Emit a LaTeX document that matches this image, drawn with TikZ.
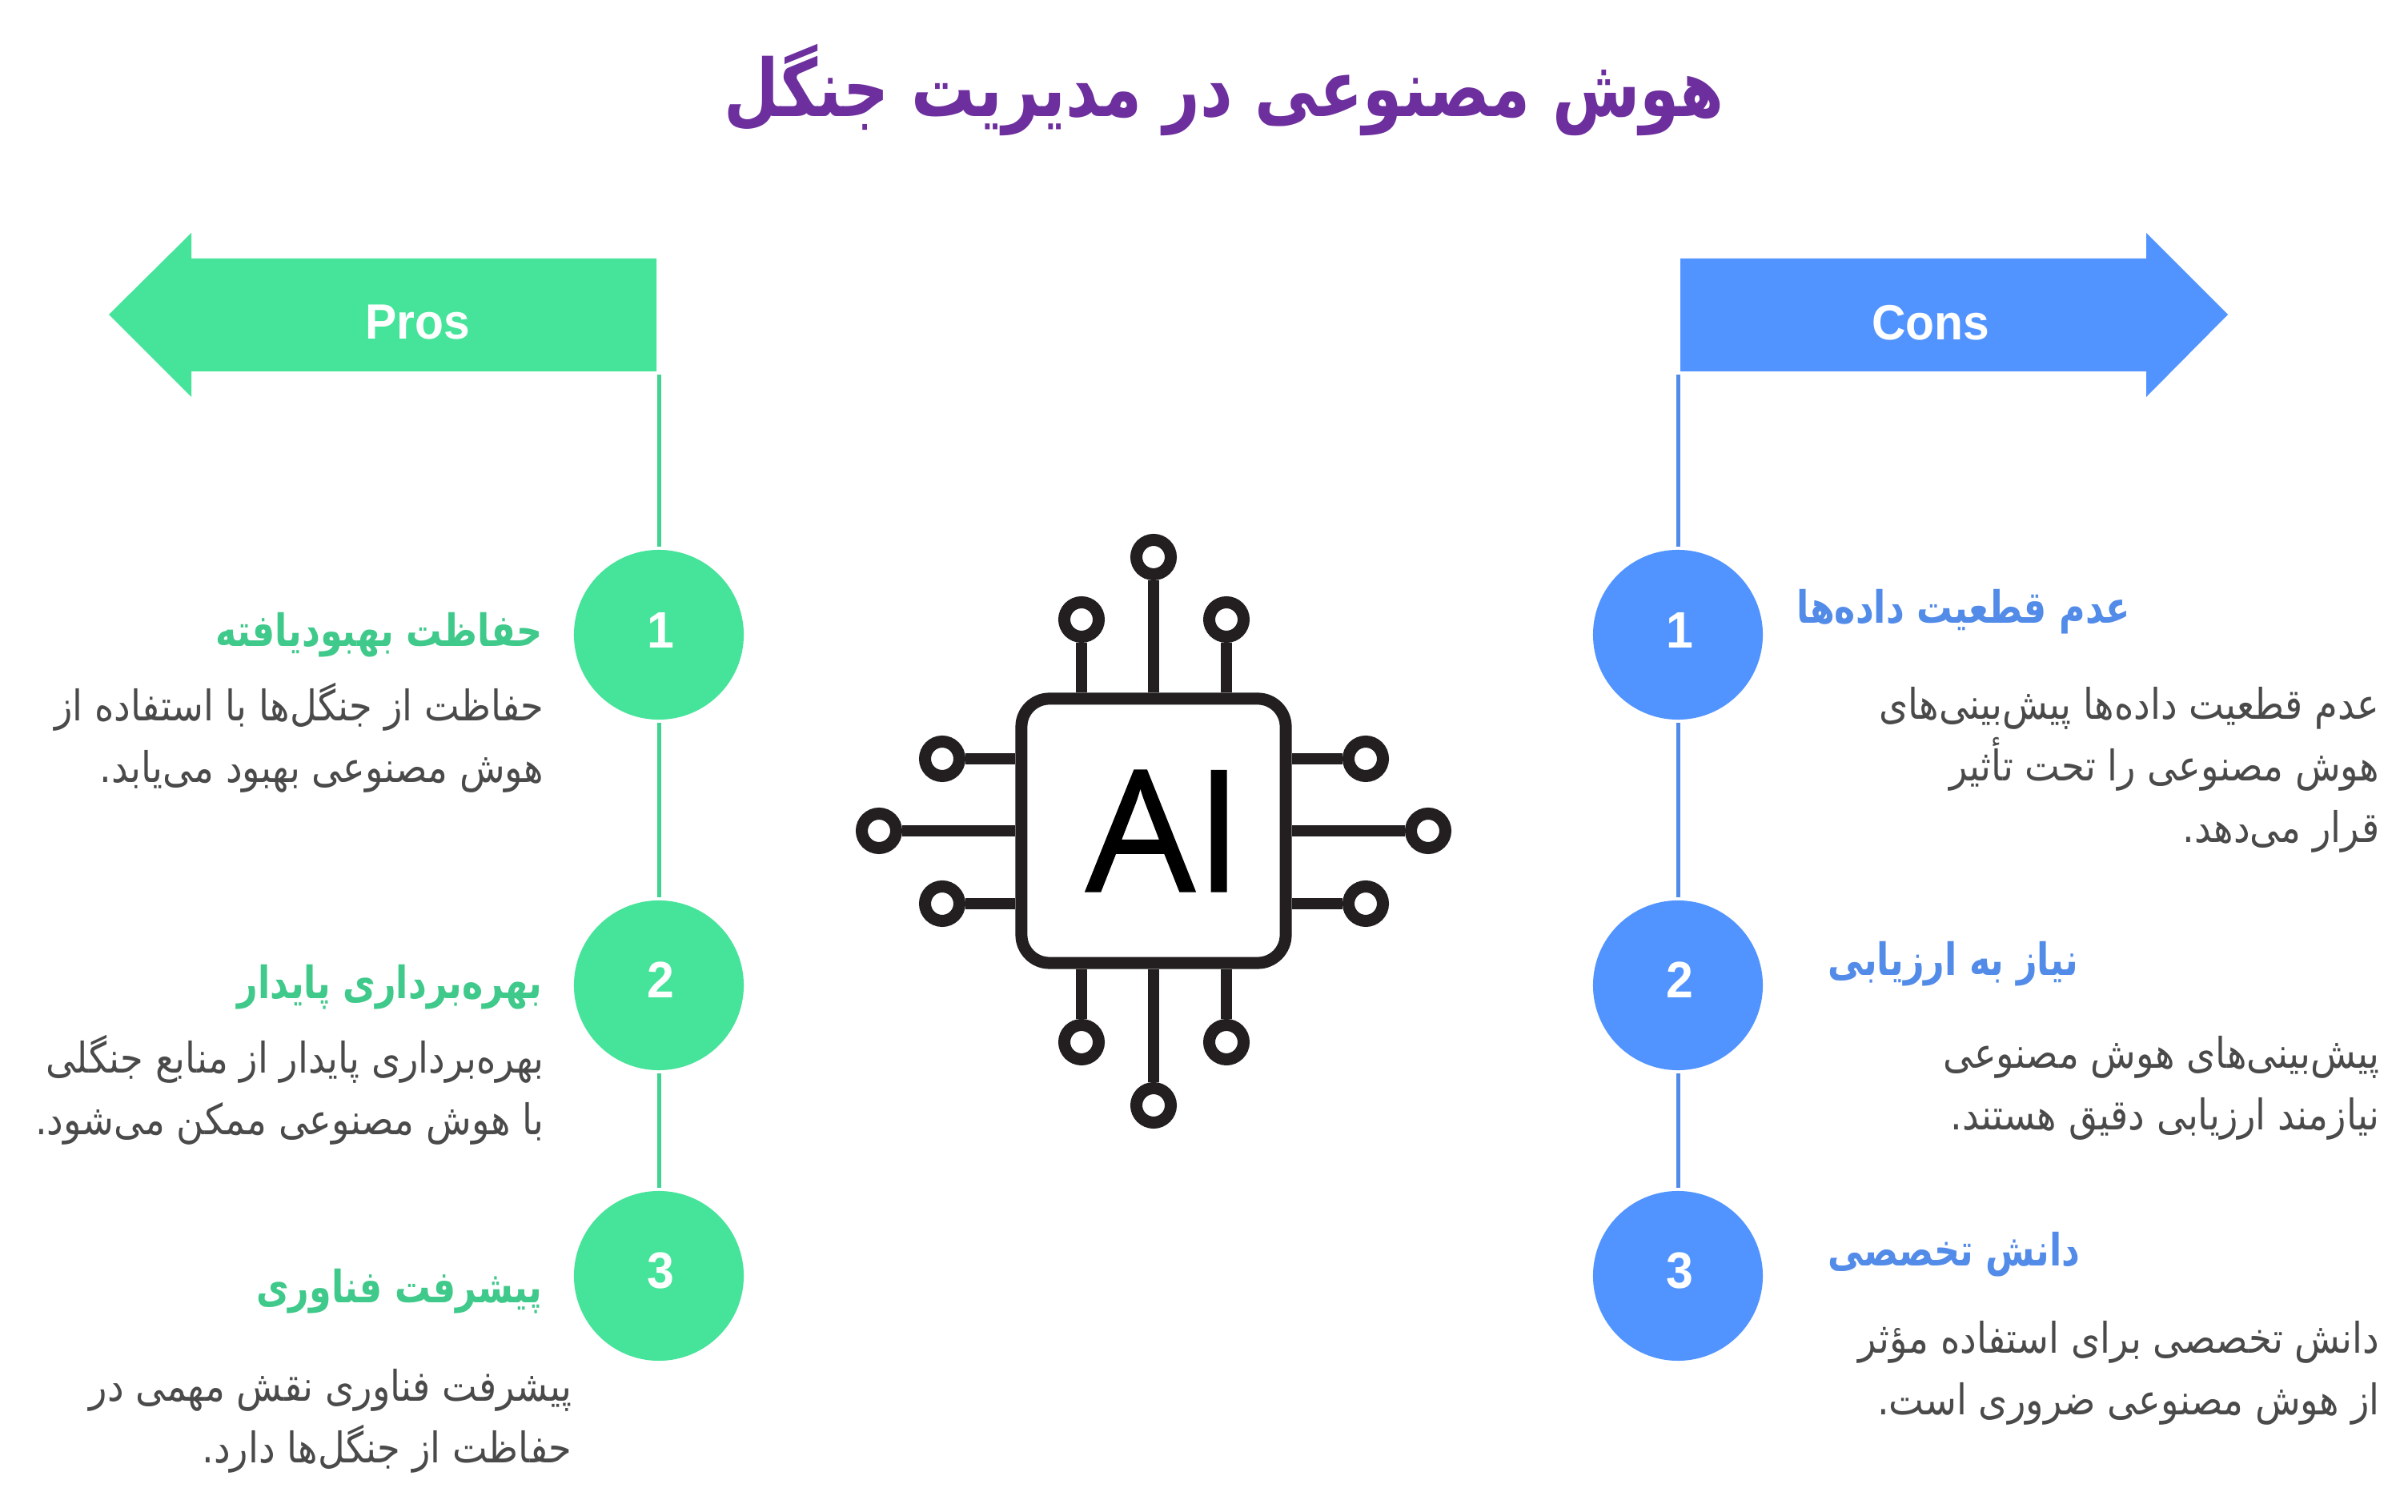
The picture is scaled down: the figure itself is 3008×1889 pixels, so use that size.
\documentclass[tikz,border=0pt]{standalone}
\usepackage{fontspec}
\setmainfont{Liberation Sans}
\newfontfamily\arabicfont[Script=Arabic,FakeStretch=0.88]{DejaVu Sans}
\newfontfamily\arabichead[Script=Arabic,FakeStretch=0.80]{DejaVu Sans}
\newfontfamily\labelfont[FakeStretch=0.95]{Liberation Sans}
\newfontfamily\aifont[FakeBold=1,FakeStretch=1.02]{Open Sans}
\TeXXeTstate=1
\definecolor{prosgreen}{HTML}{46E39A}
\definecolor{prosline}{HTML}{43D391}
\definecolor{prostext}{HTML}{3FC98A}
\definecolor{consblue}{HTML}{5294FF}
\definecolor{consline}{HTML}{528CE8}
\definecolor{constext}{HTML}{528CE8}
\definecolor{bodygray}{HTML}{4A4A4A}
\definecolor{titlepurple}{HTML}{6D2F9E}
\definecolor{chipink}{HTML}{231F20}
\newcommand{\fa}[1]{\beginR #1\endR}
\tikzset{
  numdot/.style={circle,minimum size=2.12cm,inner sep=0pt,outer sep=1.1pt},
  numtxt/.style={text=white,font=\labelfont\fontsize{18.2}{20}\selectfont\bfseries,inner sep=0pt},
  headtxt/.style={anchor=east,inner sep=0pt,font=\arabichead\fontsize{15.8}{18}\selectfont\bfseries},
  bodytxt/.style={anchor=north east,inner sep=0pt,align=right,text=bodygray,font=\arabicfont\fontsize{15}{21.9}\selectfont},
  arrowtxt/.style={text=white,inner sep=0pt,font=\labelfont\fontsize{17.6}{20}\selectfont\bfseries},
  pinring/.style={circle,draw=chipink,fill=white,line width=0.15cm,minimum size=0.43cm,inner sep=0pt},
  pinline/.style={draw=chipink,line width=0.14cm},
}
\begin{document}
\begin{tikzpicture}[x=0.01cm,y=-0.01cm]
  \useasboundingbox (0,0) rectangle (3008,1889);
  \fill[white] (0,0) rectangle (3008,1889);
  \node[inner sep=0pt,text=titlepurple,font=\arabichead\fontsize{28.2}{30}\selectfont\bfseries] (title) at (1529,113) {\fa{هوش مصنوعی در مدیریت جنگل}};
  % the two banners
  \fill[prosgreen] (820,323) -- (239,323) -- (239,291) -- (136,393) -- (239,496) -- (239,464) -- (820,464) -- cycle;
  \fill[consblue] (2099,323) -- (2681,323) -- (2681,291) -- (2783,393) -- (2681,496) -- (2681,464) -- (2099,464) -- cycle;
  \node[arrowtxt] (pros) at (522,403) {Pros};
  \node[arrowtxt] (cons) at (2412,403) {Cons};
  \coordinate (pa) at (823,468);
  \coordinate (ca) at (2096,468);
  % left column
  \node[numdot,fill=prosgreen] (p1) at (823,793) {};
  \node[numdot,fill=prosgreen] (p2) at (823,1231) {};
  \node[numdot,fill=prosgreen] (p3) at (823,1594) {};
  \node[numtxt] (pn1) at (825,787) {1};
  \node[numtxt] (pn2) at (825,1224) {2};
  \node[numtxt] (pn3) at (825,1588) {3};
  \draw[prosline,line width=0.05cm] (pa) -- (p1);
  \draw[prosline,line width=0.05cm] (p1) -- (p2);
  \draw[prosline,line width=0.05cm] (p2) -- (p3);
  \node[headtxt,text=prostext] (ph1) at (678,793) {\fa{حفاظت بهبودیافته}};
  \node[headtxt,text=prostext] (ph2) at (678,1233) {\fa{بهره‌برداری پایدار}};
  \node[headtxt,text=prostext] (ph3) at (678,1613) {\fa{پیشرفت فناوری}};
  \node[bodytxt] (pt1) at (680,853) {\fa{حفاظت از جنگل‌ها با استفاده از}\\\fa{هوش مصنوعی بهبود می‌یابد.}};
  \node[bodytxt] (pt2) at (680,1293) {\fa{بهره‌برداری پایدار از منابع جنگلی}\\\fa{با هوش مصنوعی ممکن می‌شود.}};
  \node[bodytxt] (pt3) at (715,1710) {\fa{پیشرفت فناوری نقش مهمی در}\\\fa{حفاظت از جنگل‌ها دارد.}};
  % right column
  \node[numdot,fill=consblue] (c1) at (2096,793) {};
  \node[numdot,fill=consblue] (c2) at (2096,1231) {};
  \node[numdot,fill=consblue] (c3) at (2096,1594) {};
  \node[numtxt] (cn1) at (2098,787) {1};
  \node[numtxt] (cn2) at (2098,1224) {2};
  \node[numtxt] (cn3) at (2098,1588) {3};
  \draw[consline,line width=0.05cm] (ca) -- (c1);
  \draw[consline,line width=0.05cm] (c1) -- (c2);
  \draw[consline,line width=0.05cm] (c2) -- (c3);
  \node[headtxt,text=constext] (ch1) at (2662,764) {\fa{عدم قطعیت داده‌ها}};
  \node[headtxt,text=constext] (ch2) at (2597,1204) {\fa{نیاز به ارزیابی}};
  \node[headtxt,text=constext] (ch3) at (2599,1567) {\fa{دانش تخصصی}};
  \node[bodytxt] (ct1) at (2973,858) {\fa{عدم قطعیت داده‌ها پیش‌بینی‌های}\\\fa{هوش مصنوعی را تحت تأثیر}\\\fa{قرار می‌دهد.}};
  \node[bodytxt] (ct2) at (2973,1294) {\fa{پیش‌بینی‌های هوش مصنوعی}\\\fa{نیازمند ارزیابی دقیق هستند.}};
  \node[bodytxt] (ct3) at (2973,1650) {\fa{دانش تخصصی برای استفاده مؤثر}\\\fa{از هوش مصنوعی ضروری است.}};
  % chip
  \node[draw=chipink,fill=white,line width=0.15cm,rounded corners=0.35cm,minimum size=3.3cm,inner sep=0pt,font=\aifont\fontsize{60}{66}\selectfont,text=black] (chip) at (1441,1038) {\hspace*{0.27cm}AI};
  \node[pinring] (t1) at (1351,774) {};
  \node[pinring] (t2) at (1441,696) {};
  \node[pinring] (t3) at (1532,774) {};
  \node[pinring] (b1) at (1351,1302) {};
  \node[pinring] (b2) at (1441,1381) {};
  \node[pinring] (b3) at (1532,1302) {};
  \node[pinring] (l1) at (1177,948) {};
  \node[pinring] (l2) at (1098,1038) {};
  \node[pinring] (l3) at (1177,1129) {};
  \node[pinring] (r1) at (1706,948) {};
  \node[pinring] (r2) at (1784,1038) {};
  \node[pinring] (r3) at (1706,1129) {};
  \draw[pinline] (t1) -- (t1 |- chip.north);
  \draw[pinline] (t2) -- (chip.north);
  \draw[pinline] (t3) -- (t3 |- chip.north);
  \draw[pinline] (b1) -- (b1 |- chip.south);
  \draw[pinline] (b2) -- (chip.south);
  \draw[pinline] (b3) -- (b3 |- chip.south);
  \draw[pinline] (l1) -- (l1 -| chip.west);
  \draw[pinline] (l2) -- (chip.west);
  \draw[pinline] (l3) -- (l3 -| chip.west);
  \draw[pinline] (r1) -- (r1 -| chip.east);
  \draw[pinline] (r2) -- (chip.east);
  \draw[pinline] (r3) -- (r3 -| chip.east);
\end{tikzpicture}
\end{document}
